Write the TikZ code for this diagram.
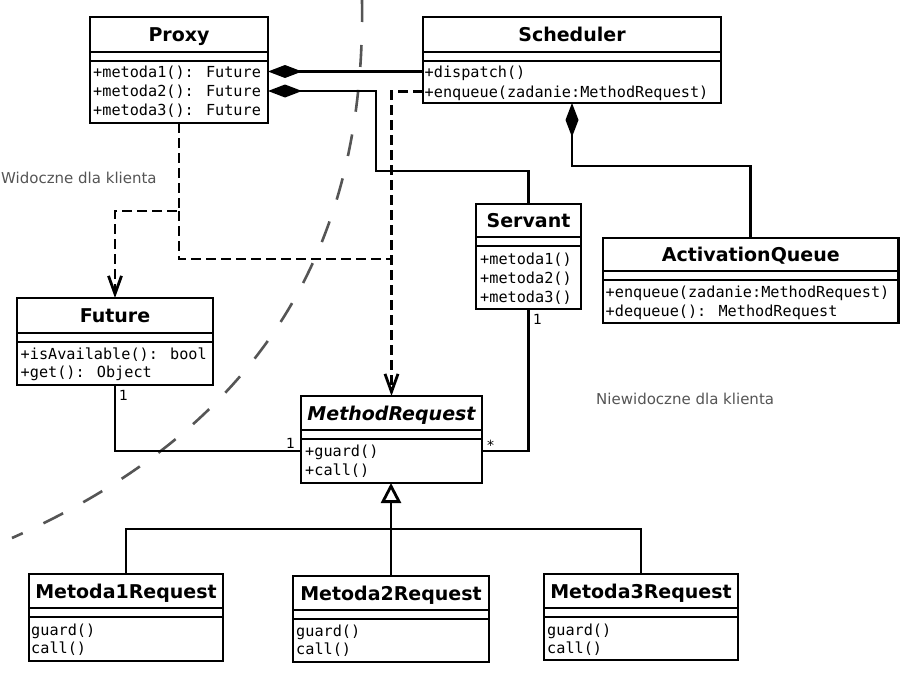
\documentclass[tikz,border=0pt]{standalone}
\usepackage{fontspec}
\setmainfont{DejaVu Sans}
\newfontfamily\monof{DejaVu Sans Mono}
\usetikzlibrary{arrows.meta}
\definecolor{labgray}{HTML}{555555}
\newcommand{\umlclass}[7]{%
  \node[box, minimum width={#4-#2}, minimum height={#5-#3}] (#1) at (#2,#3) {};
  \draw[divl] (#2,#6) -- (#4,#6);
  \draw[divl] (#2,#6+9) -- (#4,#6+9);
  \node[ttl] (#1T) at ({(#2+#4)/2},{(#3+#6)/2}) {#7};
}
\begin{document}
\begin{tikzpicture}[x=1pt,y=-1pt,
 box/.style={draw,line width=2.8pt,fill=white,anchor=north west,inner sep=0pt,outer sep=0pt},
 divl/.style={line width=2.8pt},
 ttl/.style={font=\bfseries\fontsize{19}{22}\selectfont,inner sep=0pt,text height=14pt,text depth=0pt},
 mem/.style={font=\monof\fontsize{15.2}{18}\selectfont,anchor=west,inner sep=0pt,text height=11pt,text depth=0pt},
 lab/.style={font=\fontsize{15}{18}\selectfont,text=labgray,anchor=base west,inner sep=0pt},
 mult/.style={font=\fontsize{14}{16}\selectfont,anchor=base west,inner sep=0pt},
 conn/.style={line width=2.8pt},
 comp/.style={conn,{Diamond[length=34pt,width=13pt]}-},
 dep/.style={conn,dash pattern=on 10pt off 5pt},
 deparr/.style={dep,-{Straight Barb[length=18pt,width=13pt]}},
 inh/.style={conn,-{Triangle[length=20pt,width=20pt,fill=white]}},
 border/.style={line width=2.6pt,draw=labgray,dash pattern=on 22pt off 23pt}
]
\fill[white] (0,0) rectangle (900,680);
\useasboundingbox (0,0) rectangle (900,680);

% visibility border
\draw[border] (362,0) .. controls (365,200) and (300,410) .. (12,538);

% labels
\node[lab] (vis) at (1,183) {Widoczne dla klienta};
\node[lab] (invis) at (596,404) {Niewidoczne dla klienta};

% classes
\umlclass{proxy}{90}{17}{268}{123}{52}{Proxy}
\node[mem] (proxyM1) at (93,71.5) {+metoda1(): Future};
\node[mem] (proxyM2) at (93,91) {+metoda2(): Future};
\node[mem] (proxyM3) at (93,110) {+metoda3(): Future};

\umlclass{sched}{423}{17}{721}{103}{52}{Scheduler}
\node[mem] (schedM1) at (424.5,72) {+dispatch()};
\node[mem] (schedM2) at (424.5,91.5) {+enqueue(zadanie:MethodRequest)};

\umlclass{future}{17}{298}{213}{385}{333}{Future}
\node[mem] (futureM1) at (20.5,353.5) {+isAvailable(): bool};
\node[mem] (futureM2) at (20.5,372) {+get(): Object};

\umlclass{servant}{476}{204}{581}{309}{237}{Servant}
\node[mem] (servantM1) at (480,258.5) {+metoda1()};
\node[mem] (servantM2) at (480,277.5) {+metoda2()};
\node[mem] (servantM3) at (480,296.5) {+metoda3()};

\umlclass{aq}{603}{238}{898.5}{323}{271}{ActivationQueue}
\node[mem] (aqM1) at (605.5,292) {+enqueue(zadanie:MethodRequest)};
\node[mem] (aqM2) at (605.5,311) {+dequeue(): MethodRequest};

\umlclass{mr}{301}{396}{482}{483}{430}{\itshape MethodRequest}
\node[mem] (mrM1) at (305,451) {+guard()};
\node[mem] (mrM2) at (305,469.5) {+call()};

\umlclass{mA}{29}{574}{223}{661}{608}{Metoda1Request}
\node[mem] (mAM1) at (31,629.5) {guard()};
\node[mem] (mAM2) at (31,647.5) {call()};

\umlclass{mB}{293}{576}{489}{662}{610}{Metoda2Request}
\node[mem] (mBM1) at (296,631) {guard()};
\node[mem] (mBM2) at (296,649) {call()};

\umlclass{mC}{544}{574}{738}{660}{608}{Metoda3Request}
\node[mem] (mCM1) at (547,629.5) {guard()};
\node[mem] (mCM2) at (547,647.5) {call()};

% helper coordinates
\coordinate (k1) at (376,171);
\coordinate (pb) at (179,211);
\coordinate (jn) at (391.5,259);
\coordinate (hb) at (391,529);

% compositions
\draw[comp] (proxy.east |- proxyM1) -- (sched.west |- proxyM1);
\draw[comp] (proxy.east |- proxyM2) -| (k1) -| (servant.north);
\draw[comp] (sched.south) -- ++(0,63) -| (aq.north);

% dependencies
\draw[deparr] (sched.west |- schedM2) -| (mr.north);
\draw[deparr] (proxy.south) -- (pb) -| (future.north);
\draw[dep] (pb) |- (jn);

% associations
\draw[conn] (future.south) |- (mr.west |- mrM1);
\draw[conn] (servant.south) |- (mr.east |- mrM1);
\node[mult] (mu1) at (119,400) {1};
\node[mult] (mu2) at (286,448) {1};
\node[mult] (mu3) at (533,324) {1};
\node[mult] (mu4) at (487,450) {*};

% inheritance
\draw[inh] (mB.north) -- (mB.north |- mr.south);
\draw[conn] (mA.north) |- (hb) -| (mC.north);
\end{tikzpicture}
\end{document}
